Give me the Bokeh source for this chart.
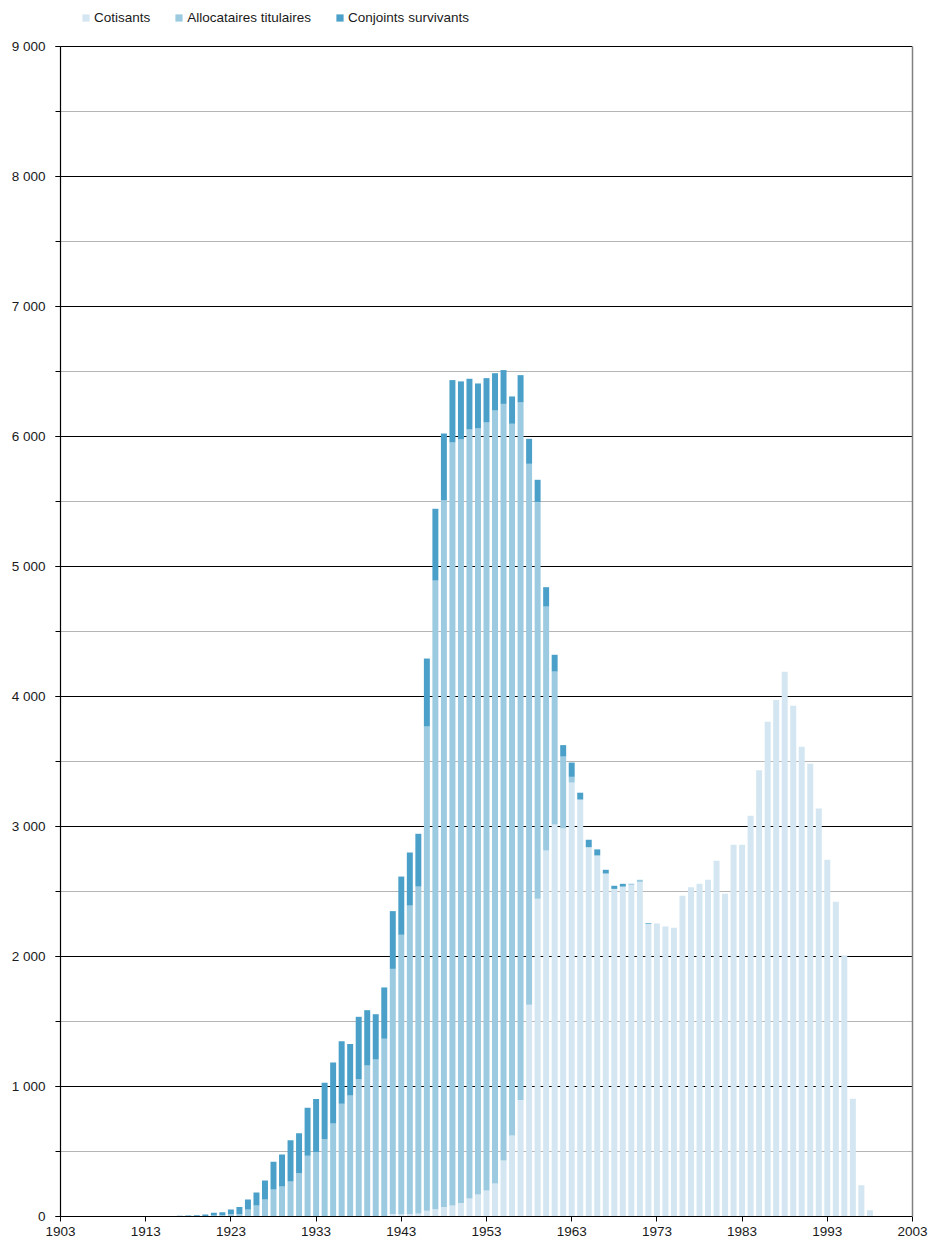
from bokeh.plotting import figure
from bokeh.models import (ColumnDataSource, Range1d, SingleIntervalTicker, FixedTicker,
                          Legend, LegendItem, LinearAxis)
from bokeh.embed import file_html
from bokeh.resources import INLINE

# ---------------- data ----------------
years = list(range(1914, 1999))

cotisants = [
    0, 0, 0, 0, 0, 0,                      # 1914-1919
    0, 0, 0, 0, 0, 0, 0, 0, 0, 0,          # 1920-1929
    0, 0, 0, 0, 0, 0, 0, 0, 0, 0,          # 1930-1939
    0, 0, 20, 18, 20, 23, 44, 56, 74, 85,  # 1940-1949
    103, 138, 169, 200, 254, 431, 623, 897, 1628, 2444,      # 1950-1959
    2815, 3015, 2985, 3338, 3205, 2838, 2775, 2636, 2518, 2536,  # 1960-1969
    2554, 2574, 2250, 2254, 2230, 2221, 2467, 2532, 2559, 2590,  # 1970-1979
    2736, 2482, 2859, 2859, 3082, 3433, 3805, 3974, 4190, 3928,  # 1980-1989
    3613, 3482, 3139, 2744, 2421, 2008, 905, 241, 49,            # 1990-1998
]

allocataires = [
    1, 1, 1, 1, 2, 3,
    4, 8, 10, 20, 20, 54, 85, 131, 208, 231,
    269, 333, 467, 497, 595, 715, 867, 931, 1056, 1162,
    1208, 1367, 1885, 2149, 2372, 2515, 3725, 4836, 5437, 5869,
    5877, 5916, 5893, 5908, 5946, 5820, 5475, 5365, 4162, 3051,
    1877, 1177, 553, 44, 3, 4, 3, 3, 2, 2,
    1, 16, 2, 0, 0, 0, 0, 0, 0, 0,
    0, 0, 0, 0, 0, 0, 0, 0, 0, 0,
    0, 0, 0, 0, 0, 0, 0, 0, 0,
]

conjoints = [
    2, 3, 3, 4, 5, 7,
    11, 20, 23, 34, 54, 77, 100, 146, 213, 246,
    318, 308, 369, 406, 433, 470, 482, 395, 480, 425,
    348, 395, 444, 448, 408, 406, 523, 552, 512, 480,
    444, 390, 346, 341, 287, 260, 210, 210, 192, 172,
    149, 129, 88, 110, 52, 56, 46, 28, 24, 21,
    4, 0, 5, 0, 0, 0, 0, 0, 0, 0,
    0, 0, 0, 0, 0, 0, 0, 0, 0, 0,
    0, 0, 0, 0, 0, 0, 0, 0, 0,
]

series_names = ["Cotisants", "Allocataires titulaires", "Conjoints survivants"]
series_colors = ["#d3e6f1", "#9ccae0", "#4aa0c8"]

x_tick_values = [1903, 1913, 1923, 1933, 1943, 1953, 1963, 1973, 1983, 1993, 2003]
y_tick_values = [0, 1000, 2000, 3000, 4000, 5000, 6000, 7000, 8000, 9000]
y_tick_labels = ["0", "1 000", "2 000", "3 000", "4 000", "5 000",
                 "6 000", "7 000", "8 000", "9 000"]
y_max = 9000

# ---------------- figure ----------------
FONT = "Liberation Sans"
FS = "13.5px"

PLOT_H = 1170          # pixels from 0 to y_max
TOP_SPACE = 46         # legend space above y_max, kept inside the frame

source = ColumnDataSource(dict(year=years, c=cotisants, a=allocataires, j=conjoints))

p = figure(frame_width=852, frame_height=PLOT_H + TOP_SPACE,
           x_range=Range1d(1903, 2003),
           y_range=Range1d(0, y_max * (PLOT_H + TOP_SPACE) / PLOT_H),
           output_backend="svg", toolbar_location=None,
           min_border_left=60, min_border_right=20,
           min_border_top=0, min_border_bottom=32)
p.outline_line_color = None
p.background_fill_color = "white"
p.border_fill_color = "white"

renderers = p.vbar_stack(["c", "a", "j"], x="year", width=0.7, source=source,
                         color=series_colors, line_color=None)

# axes
p.xaxis.ticker = FixedTicker(ticks=x_tick_values, minor_ticks=[])
p.yaxis.ticker = SingleIntervalTicker(interval=1000, num_minor_ticks=2)
p.yaxis.major_label_overrides = {v: s for v, s in zip(y_tick_values, y_tick_labels)}
p.yaxis.bounds = (0, y_max)

for ax in (p.xaxis[0], p.yaxis[0]):
    ax.axis_line_color = "black"
    ax.axis_line_width = 1.2
    ax.major_tick_line_color = "black"
    ax.minor_tick_line_color = "black"
    ax.major_tick_in = 0
    ax.major_tick_out = 5
    ax.minor_tick_in = 0
    ax.minor_tick_out = 5
    ax.major_label_text_font = FONT
    ax.major_label_text_font_size = FS
    ax.major_label_text_color = "#1a1a1a"

p.yaxis.major_label_standoff = 10
p.xaxis.major_label_standoff = 5
p.xaxis.minor_tick_line_color = None

p.xgrid.visible = False
p.ygrid.bounds = (0, y_max)
p.ygrid.grid_line_color = "black"
p.ygrid.grid_line_width = 1
p.ygrid.minor_grid_line_color = "#b5b5b5"
p.ygrid.minor_grid_line_width = 1

# right frame line (axis without ticks)
right_axis = LinearAxis(ticker=FixedTicker(ticks=[]), bounds=(0, y_max),
                        axis_line_color="#808080", axis_line_width=1.5,
                        major_tick_line_color=None, minor_tick_line_color=None)
p.add_layout(right_axis, "right")

# legend above the 9 000 line
legend = Legend(items=[LegendItem(label=n, renderers=[r]) for n, r in zip(series_names, renderers)],
                orientation="horizontal", location=(21, PLOT_H + TOP_SPACE - 25))
legend.glyph_width = 9
legend.glyph_height = 9
legend.label_height = 14
legend.label_standoff = 4
legend.spacing = 24
legend.padding = 0
legend.margin = 0
legend.border_line_color = None
legend.background_fill_alpha = 0
legend.label_text_font = FONT
legend.label_text_font_size = FS
legend.label_text_color = "#1a1a1a"
p.add_layout(legend)

open("out.html", "w").write(file_html(p, INLINE))
